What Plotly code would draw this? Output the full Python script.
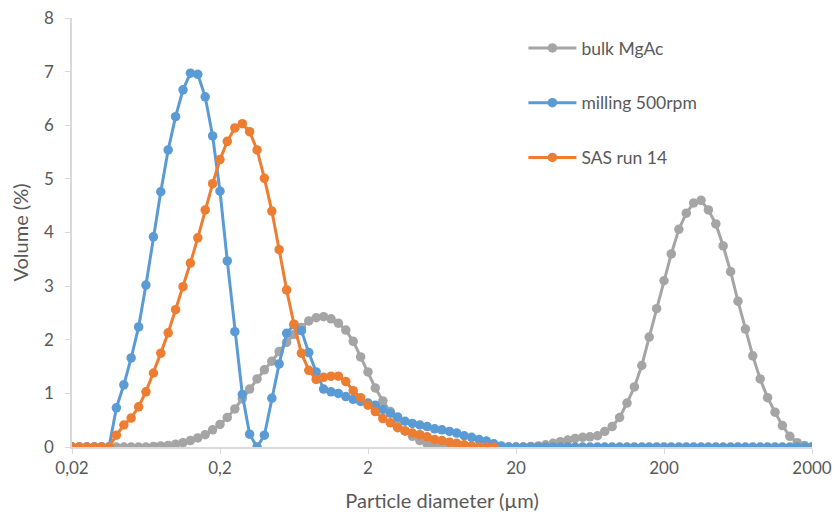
import plotly.graph_objects as go

# Particle size classes (µm)
sizes = [0.0200, 0.0224, 0.0252, 0.0283, 0.0317, 0.0356, 0.0399, 0.0448, 0.0502, 0.0564,
         0.0632, 0.0710, 0.0796, 0.0893, 0.1002, 0.1125, 0.1262, 0.1416, 0.1589, 0.1783,
         0.200, 0.224, 0.252, 0.283, 0.317, 0.356, 0.399, 0.448, 0.502, 0.564,
         0.632, 0.710, 0.796, 0.893, 1.002, 1.125, 1.262, 1.416, 1.589, 1.783,
         2.00, 2.24, 2.52, 2.83, 3.17, 3.56, 3.99, 4.48, 5.02, 5.64,
         6.32, 7.10, 7.96, 8.93, 10.02, 11.25, 12.62, 14.16, 15.89, 17.83,
         20.0, 22.4, 25.2, 28.3, 31.7, 35.6, 39.9, 44.8, 50.2, 56.4,
         63.2, 71.0, 79.6, 89.3, 100.2, 112.5, 126.2, 141.6, 158.9, 178.3,
         200, 224, 252, 283, 317, 356, 399, 448, 502, 564,
         632, 710, 796, 893, 1002, 1125, 1262, 1416, 1589, 1783,
         2000]

bulk_mgac = [0, 0, 0, 0, 0, 0, 0, 0, 0, 0,
             0, 0.01, 0.02, 0.03, 0.05, 0.08, 0.12, 0.17, 0.23, 0.32,
             0.42, 0.55, 0.71, 0.90, 1.08, 1.27, 1.44, 1.60, 1.78, 1.95,
             2.10, 2.23, 2.35, 2.41, 2.43, 2.39, 2.31, 2.18, 1.97, 1.68,
             1.40, 1.10, 0.86, 0.66, 0.45, 0.30, 0.20, 0.12, 0.06, 0.02,
             0.01, 0, 0, 0, 0, 0, 0, 0, 0, 0,
             0, 0, 0.01, 0.02, 0.04, 0.07, 0.10, 0.13, 0.16, 0.18,
             0.19, 0.21, 0.29, 0.38, 0.55, 0.82, 1.12, 1.52, 2.05, 2.58,
             3.10, 3.60, 4.06, 4.36, 4.55, 4.60, 4.42, 4.16, 3.75, 3.27,
             2.72, 2.20, 1.70, 1.27, 0.92, 0.65, 0.40, 0.20, 0.08, 0.03,
             0]

milling_500rpm = [0, 0, 0, 0, 0, 0, 0.73, 1.16, 1.66, 2.24,
                  3.02, 3.92, 4.76, 5.54, 6.16, 6.66, 6.97, 6.95, 6.53, 5.80,
                  4.77, 3.47, 2.15, 0.98, 0.24, 0.00, 0.22, 0.91, 1.55, 2.12,
                  2.28, 2.17, 1.76, 1.40, 1.08, 1.03, 1.00, 0.94, 0.89, 0.85,
                  0.82, 0.78, 0.70, 0.63, 0.56, 0.48, 0.44, 0.41, 0.38, 0.34,
                  0.32, 0.29, 0.26, 0.21, 0.18, 0.14, 0.11, 0.06, 0.02, 0,
                  0, 0, 0, 0, 0, 0, 0, 0, 0, 0,
                  0, 0, 0, 0, 0, 0, 0, 0, 0, 0,
                  0, 0, 0, 0, 0, 0, 0, 0, 0, 0,
                  0, 0, 0, 0, 0, 0, 0, 0, 0, 0,
                  0]

sas_run14 = [0, 0, 0, 0, 0, 0, 0.22, 0.41, 0.54, 0.75,
             1.03, 1.38, 1.75, 2.13, 2.56, 2.99, 3.43, 3.90, 4.42, 4.91,
             5.36, 5.70, 5.95, 6.03, 5.88, 5.54, 5.01, 4.40, 3.68, 2.93,
             2.29, 1.75, 1.43, 1.26, 1.30, 1.32, 1.32, 1.22, 1.05, 0.92,
             0.78, 0.66, 0.53, 0.45, 0.36, 0.30, 0.26, 0.23, 0.19, 0.14,
             0.12, 0.09, 0.07, 0.04, 0.02, 0, 0, 0]

tick_vals = [0.02, 0.2, 2, 20, 200, 2000]
tick_text = ["0,02", "0,2", "2", "20", "200", "2000"]

series = [
    ("bulk MgAc", sizes, bulk_mgac, "#A5A5A5"),
    ("milling 500rpm", sizes, milling_500rpm, "#5B9BD5"),
    ("SAS run 14", sizes[:len(sas_run14)], sas_run14, "#ED7D31"),
]

fig = go.Figure()
for name, xs, ys, color in series:
    fig.add_trace(go.Scatter(
        x=xs, y=ys, name=name, mode="lines+markers",
        line=dict(color=color, width=3),
        marker=dict(color=color, size=9.5, symbol="circle"),
        legendgroup=name,
    ))

font_family = "Lato, Carlito, 'Open Sans', sans-serif"
fig.update_layout(
    width=833, height=515,
    margin=dict(l=72, r=21, t=18, b=68),
    paper_bgcolor="white", plot_bgcolor="white",
    font=dict(family=font_family, size=17, color="#595959"),
    showlegend=True,
    legend=dict(x=0.61, y=0.972, xanchor="left", yanchor="top",
                bgcolor="rgba(0,0,0,0)", font=dict(size=17.5, color="#595959"),
                tracegroupgap=29, itemwidth=48),
)
fig.update_xaxes(
    type="log", range=[-1.69897, 3.30103], automargin=False,
    tickvals=tick_vals, ticktext=tick_text,
    showgrid=False, zeroline=False,
    showline=True, linecolor="#D9D9D9", linewidth=1.5,
    ticks="outside", ticklen=5, tickcolor="#D9D9D9",
    title=dict(text="Particle diameter (µm)", font=dict(size=20, color="#595959"), standoff=17),
)
fig.update_yaxes(
    range=[0, 8], dtick=1, automargin=False,
    showgrid=False, zeroline=False,
    showline=True, linecolor="#D9D9D9", linewidth=1.5,
    ticks="outside", ticklen=5, tickcolor="#D9D9D9",
    ticklabelstandoff=8,
    title=dict(text="Volume (%)", font=dict(size=20, color="#595959"), standoff=10),
)

fig.write_html("out.html")
